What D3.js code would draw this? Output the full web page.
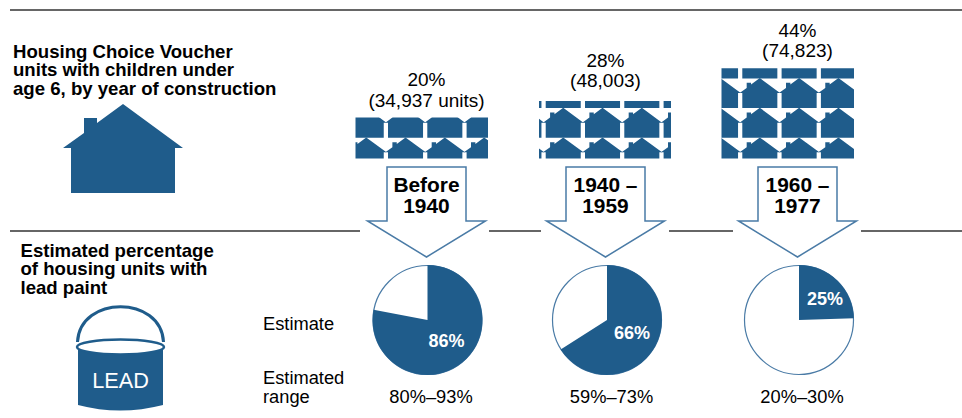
<!DOCTYPE html>
<html><head><meta charset="utf-8">
<script src="https://cdn.jsdelivr.net/npm/d3@7/dist/d3.min.js"></script>
<style>html,body{margin:0;padding:0;background:#fff}svg{display:block}text{font-family:"Liberation Sans",Arial,sans-serif;fill:#000}</style>
</head><body><svg id="c" width="962" height="418"></svg>
<script>
const periods = ["Before 1940", "1940 – 1959", "1960 – 1977"];
const periodLine1 = ["Before", "1940 –", "1960 –"];
const periodLine2 = ["1940", "1959", "1977"];
const shares = [20, 28, 44];
const unitLabels = ["(34,937 units)", "(48,003)", "(74,823)"];
const estimates = [86, 66, 25];
// the slices as actually drawn in the picture (the first differs from its printed label)
const drawnSlices = [78, 66, 24.5];
const ranges = ["80%–93%", "59%–73%", "20%–30%"];

const BLUE = "#1f5c8b", EDGE = "#4a7ba6";
const svg = d3.select("#c");
const cols = d3.scaleOrdinal().domain(periods).range([426.5, 605.5, 797.5]);
const pieX = d3.scaleOrdinal().domain(periods).range([427.5, 607, 799]);
const tileH = d3.scaleLinear().domain([0, 44]).range([0, 90.2]);
const tileL = d3.scaleOrdinal().domain(periods).range([355.5, 539, 721.5]);
const tileR = d3.scaleOrdinal().domain(periods).range([488, 671, 854]);
const tileOrigin = d3.scaleOrdinal().domain(periods).range([348.7, 506.4, 703]);
const angle = d3.scaleLinear().domain([0, 100]).range([0, 2 * Math.PI]);
const TILE_BOTTOM = 158.5, STEP_X = 39.3, STEP_Y = 29.7;

function text(x, y, s, size, opt = {}) {
  return svg.append("text").attr("x", x).attr("y", y).text(s)
    .attr("font-size", size).attr("text-anchor", opt.anchor || "start")
    .attr("font-weight", opt.bold ? "bold" : "normal")
    .style("fill", opt.fill || "#000");
}

// rules
svg.append("line").attr("x1", 10).attr("x2", 962).attr("y1", 10).attr("y2", 10).attr("stroke", "#333").attr("stroke-width", 1.3);
[[10, 360], [489, 541], [669, 733], [861, 962]].forEach(s =>
  svg.append("line").attr("x1", s[0]).attr("x2", s[1]).attr("y1", 231).attr("y2", 231).attr("stroke", "#333").attr("stroke-width", 1.3));

// house glyph
const housePts = [[-8,-45],[13,-60],[13,-75],[26,-75],[26,-70],[52,-89],[112,-45],[104,-45],[104,0],[0,0],[0,-45]];
const houseLine = d3.line();
svg.append("path").attr("d", houseLine(housePts)).attr("transform", "translate(71,193)").attr("fill", BLUE);
svg.append("defs");

// headings
["Housing Choice Voucher", "units with children under", "age 6, by year of construction"].forEach((t, i) =>
  text(13, [57.7, 75.7, 95][i], t, 18.6, {bold: true}));
["Estimated percentage", "of housing units with", "lead paint"].forEach((t, i) =>
  text(20.5, [256.7, 275.3, 294][i], t, 18.6, {bold: true}));
text(263, 330, "Estimate", 18.3);
text(263, 384, "Estimated", 18.3);
text(263, 402.5, "range", 18.3);

// paint can
const can = svg.append("g");
can.append("path").attr("d", "M77.5,342 C80,295 161,295 163.5,342").attr("fill", "none").attr("stroke", BLUE).attr("stroke-width", 3);
can.append("path").attr("d", "M78,347 L78,405 Q120,416 163,405 L163,347 Z").attr("fill", BLUE);
can.append("ellipse").attr("cx", 120.5).attr("cy", 347).attr("rx", 43.5).attr("ry", 7.5).attr("fill", "#fff").attr("stroke", BLUE).attr("stroke-width", 2.5);
text(120.5, 388, "LEAD", 21.7, {anchor: "middle", fill: "#fff"});

// columns
periods.forEach((p, i) => {
  const cx = cols(p), px = pieX(p);
  const h = tileH(shares[i]), top = TILE_BOTTOM - h, L = tileL(p), R = tileR(p);

  const off = [11, 13.7, 11][i];
  text(cx, top - off - 20.6, shares[i] + "%", 19, {anchor: "middle"});
  text(cx, top - off, unitLabels[i], 19, {anchor: "middle"});

  // tiled houses, clipped to an area proportional to the share
  const id = "clip" + i;
  svg.select("defs").append("clipPath").attr("id", id).append("rect").attr("x", L).attr("y", top).attr("width", R - L).attr("height", h);
  const g = svg.append("g").attr("clip-path", `url(#${id})`);
  const cells = [];
  for (let r = 0; r < 5; r++) for (let c = 0; c < 5; c++) cells.push([c, r]);
  g.selectAll("path").data(cells).join("path")
    .attr("d", houseLine(housePts))
    .attr("transform", d => `translate(${tileOrigin(p) + d[0] * STEP_X},${167.5 - d[1] * STEP_Y}) scale(0.337)`)
    .attr("fill", BLUE);

  // arrow
  const pts = [[cx-39.5,167],[cx+39.5,167],[cx+39.5,221],[cx+59,221],[cx,257],[cx-59,221],[cx-39.5,221]];
  svg.append("path").attr("d", d3.line()(pts) + "Z").attr("fill", "#fff").attr("stroke", EDGE).attr("stroke-width", 1.5);
  text(cx, 192, periodLine1[i], 20.9, {anchor: "middle", bold: true});
  text(cx, 213.3, periodLine2[i], 20.9, {anchor: "middle", bold: true});

  // pie
  const cy = 320, r = 54.5;
  const arc = d3.arc().innerRadius(0).outerRadius(r + 0.4);
  const pg = svg.append("g").attr("transform", `translate(${px},${cy})`);
  pg.append("circle").attr("r", r).attr("fill", "#fff").attr("stroke", EDGE).attr("stroke-width", 1.2);
  pg.append("path").attr("d", arc({startAngle: 0, endAngle: angle(drawnSlices[i])})).attr("fill", BLUE);
  const lab = [[446.5, 346.7], [632, 339], [825, 305]][i];
  text(lab[0], lab[1], estimates[i] + "%", 18, {anchor: "middle", bold: true, fill: "#fff"});

  text([431, 611.5, 802][i], 402.7, ranges[i], 18.3, {anchor: "middle"});
});
</script></body></html>
